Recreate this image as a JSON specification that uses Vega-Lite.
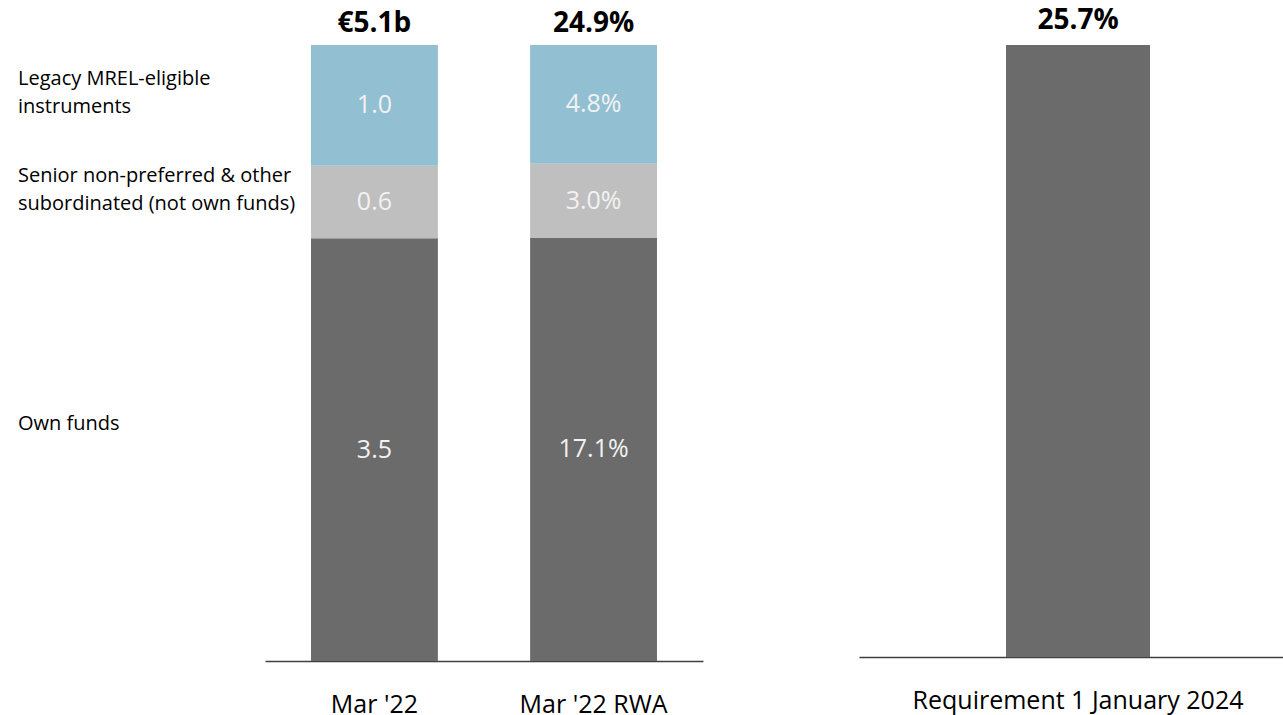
{
  "$schema": "https://vega.github.io/schema/vega-lite/v6.json",
  "padding": {"left": 18, "top": 7, "right": 0, "bottom": 0},
  "background": "white",
  "config": {
    "view": {"stroke": null},
    "font": "Open Sans",
    "axis": {"domainColor": "#404040", "domainWidth": 1.5, "ticks": false, "grid": false, "labelFontSize": 25, "labelColor": "#000000", "labelPadding": 31, "labelFont": "Open Sans", "labelAngle": 0, "labelLimit": 0},
    "text": {"font": "Open Sans"}
  },
  "datasets": {
    "segments": [
      {"bar": "Mar '22", "seg": "Own funds", "k": 1, "v": 3.5, "lbl": "3.5"},
      {"bar": "Mar '22", "seg": "Senior non-preferred & other\nsubordinated (not own funds)", "k": 2, "v": 0.6, "lbl": "0.6"},
      {"bar": "Mar '22", "seg": "Legacy MREL-eligible\ninstruments", "k": 3, "v": 1.0, "lbl": "1.0"},
      {"bar": "Mar '22 RWA", "seg": "Own funds", "k": 1, "v": 17.1, "lbl": "17.1%"},
      {"bar": "Mar '22 RWA", "seg": "Senior non-preferred & other\nsubordinated (not own funds)", "k": 2, "v": 3.0, "lbl": "3.0%"},
      {"bar": "Mar '22 RWA", "seg": "Legacy MREL-eligible\ninstruments", "k": 3, "v": 4.8, "lbl": "4.8%"}
    ],
    "totals": [
      {"bar": "Mar '22", "lbl": "€5.1b"},
      {"bar": "Mar '22 RWA", "lbl": "24.9%"}
    ],
    "requirement": [
      {"req": "Requirement 1 January 2024", "v": 25.7, "lbl": "25.7%"}
    ]
  },
  "hconcat": [
    {
      "width": 247,
      "height": 616,
      "data": {"name": "segments"},
      "transform": [
        {"filter": "datum.bar === \"Mar '22\""},
        {"stack": "v", "groupby": ["bar"], "sort": [{"field": "k", "order": "ascending"}], "offset": "normalize", "as": ["y0", "y1"]},
        {"calculate": "(datum.y0 + datum.y1) / 2", "as": "ymid"}
      ],
      "mark": {"type": "text", "align": "left", "baseline": "middle", "lineBreak": "\n", "fontSize": 20, "lineHeight": 28, "dy": -26, "color": "#000000"},
      "encoding": {
        "x": {"datum": 0, "type": "quantitative", "scale": {"domain": [0, 1]}, "axis": null},
        "y": {"field": "ymid", "type": "quantitative", "scale": {"domain": [0, 1]}, "axis": null},
        "text": {"field": "seg"}
      }
    },
    {
      "width": 438,
      "height": 616,
      "layer": [
        {
          "data": {"name": "segments"},
          "transform": [
            {"stack": "v", "groupby": ["bar"], "sort": [{"field": "k", "order": "ascending"}], "offset": "normalize", "as": ["y0", "y1"]}
          ],
          "mark": {"type": "bar"},
          "encoding": {
            "x": {"field": "bar", "type": "nominal", "title": null, "scale": {"domain": ["Mar '22", "Mar '22 RWA"], "paddingInner": 0.421, "paddingOuter": 0.21}},
            "y": {"field": "y0", "type": "quantitative", "scale": {"domain": [0, 1], "nice": false}, "axis": null},
            "y2": {"field": "y1"},
            "color": {"field": "seg", "type": "nominal", "legend": null, "scale": {"domain": ["Own funds", "Senior non-preferred & other\nsubordinated (not own funds)", "Legacy MREL-eligible\ninstruments"], "range": ["#6b6b6b", "#bfbfbf", "#93bfd3"]}}
          }
        },
        {
          "data": {"name": "segments"},
          "transform": [
            {"stack": "v", "groupby": ["bar"], "sort": [{"field": "k", "order": "ascending"}], "offset": "normalize", "as": ["y0", "y1"]},
            {"calculate": "(datum.y0 + datum.y1) / 2", "as": "ymid"}
          ],
          "mark": {"type": "text", "baseline": "middle", "fontSize": 25, "color": "#f2f2f2"},
          "encoding": {
            "x": {"field": "bar", "type": "nominal"},
            "y": {"field": "ymid", "type": "quantitative"},
            "text": {"field": "lbl"}
          }
        },
        {
          "data": {"name": "totals"},
          "mark": {"type": "text", "baseline": "alphabetic", "dy": -13, "fontSize": 28, "fontWeight": "bold", "color": "#000000"},
          "encoding": {
            "x": {"field": "bar", "type": "nominal"},
            "y": {"datum": 1, "type": "quantitative"},
            "text": {"field": "lbl"}
          }
        }
      ]
    },
    {
      "width": 156,
      "height": 616,
      "data": {"values": []},
      "mark": {"type": "point", "opacity": 0},
      "encoding": {}
    },
    {
      "width": 424,
      "height": 612,
      "data": {"name": "requirement"},
      "layer": [
        {
          "mark": {"type": "bar", "color": "#6b6b6b"},
          "encoding": {
            "x": {"field": "req", "type": "nominal", "title": null, "scale": {"paddingInner": 0, "paddingOuter": 0.9723, "align": 0.525}},
            "y": {"field": "v", "type": "quantitative", "scale": {"domain": [0, 25.7], "nice": false}, "axis": null}
          }
        },
        {
          "mark": {"type": "text", "baseline": "alphabetic", "dy": -16, "fontSize": 28, "fontWeight": "bold", "color": "#000000"},
          "encoding": {
            "x": {"field": "req", "type": "nominal"},
            "y": {"field": "v", "type": "quantitative"},
            "text": {"field": "lbl"}
          }
        }
      ]
    }
  ],
  "spacing": 0,
  "bounds": "flush"
}
